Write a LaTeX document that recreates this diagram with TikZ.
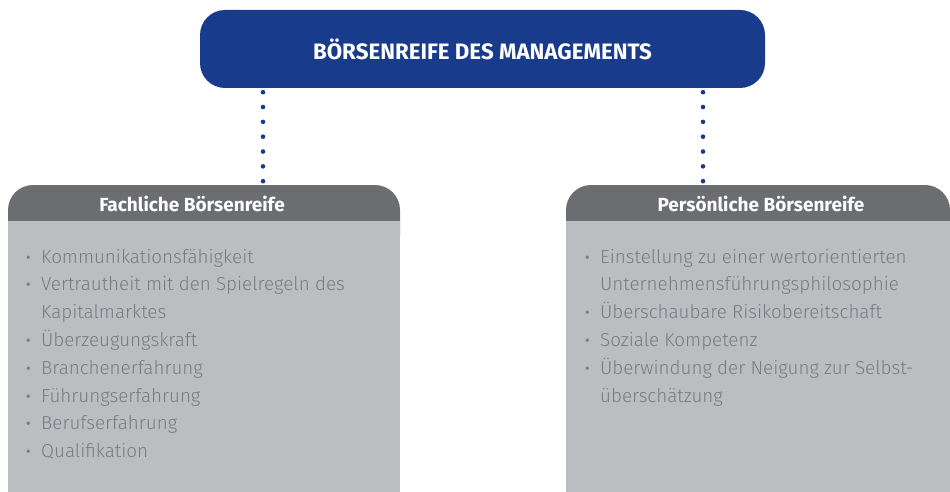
\documentclass[tikz,border=0pt]{standalone}
\usepackage{fontspec}
\setmainfont{Fira Sans}
\newfontfamily\lightfont{Fira Sans Light}
\usetikzlibrary{positioning}

\definecolor{mgmtblue}{HTML}{183C8B}
\definecolor{headgray}{HTML}{6C6D71}
\definecolor{bodygray}{HTML}{BCBDC1}
\definecolor{itemgray}{HTML}{7A7B80}

\newcommand{\bul}{\makebox[15pt][l]{\bfseries·}}
\newcommand{\nobul}{\hspace*{15pt}}

\begin{document}
\begin{tikzpicture}[x=1pt, y=-1pt,
	title/.style={fill=mgmtblue, rounded corners=25pt, minimum width=565pt, minimum height=78pt, text=white, font=\bfseries\fontsize{22.3}{24}\selectfont},
	headtext/.style={anchor=base, text=white, font=\bfseries\fontsize{19}{22}\selectfont},
	item/.style={anchor=base west, inner sep=0pt, text=itemgray, font=\lightfont\fontsize{18.8}{22}\selectfont},
	dotline/.style={mgmtblue, line width=4.6pt, line cap=round, dash pattern=on 0pt off 14.83pt, dash phase=10.83pt}]
	\useasboundingbox (0,0) rectangle (950,492);

	% top box
	\node[title] (mgmt) at (482.5,49) {BÖRSENREIFE DES MANAGEMENTS};

	% panels
	\fill[headgray, rounded corners=25pt] (8,185) rectangle (400,260);
	\fill[bodygray] (8,221) rectangle (400,492);
	\fill[headgray, rounded corners=25pt] (566,185) rectangle (950,260);
	\fill[bodygray] (566,221) rectangle (950,492);

	\node[headtext] (fach) at (192,211) {Fachliche Börsenreife};
	\node[headtext] (pers) at (761,211) {Persönliche Börsenreife};

	% dotted links
	\coordinate (fachdot) at (263,181.5);
	\coordinate (persdot) at (703,181.5);
	\draw[dotline] (mgmt.south -| fachdot) -- (fachdot);
	\draw[dotline] (mgmt.south -| persdot) -- (persdot);

	% lists
	\foreach \txt [count=\i] in {\bul Kommunikationsfähigkeit, \bul Vertrautheit mit den Spielregeln des, \nobul Kapitalmarktes, \bul Überzeugungskraft, \bul Branchenerfahrung, \bul Führungserfahrung, \bul Berufserfahrung, \bul Qualifikation}
		\node[item] (fach-\i) at (26,263+27.8*\i-27.8) {\txt};

	\foreach \txt [count=\i] in {\bul Einstellung zu einer wertorientierten, \nobul Unternehmensführungsphilosophie, \bul Überschaubare Risikobereitschaft, \bul Soziale Kompetenz, \bul Überwindung der Neigung zur Selbst-, \nobul überschätzung}
		\node[item] (pers-\i) at (585,263+27.8*\i-27.8) {\txt};
\end{tikzpicture}
\end{document}
